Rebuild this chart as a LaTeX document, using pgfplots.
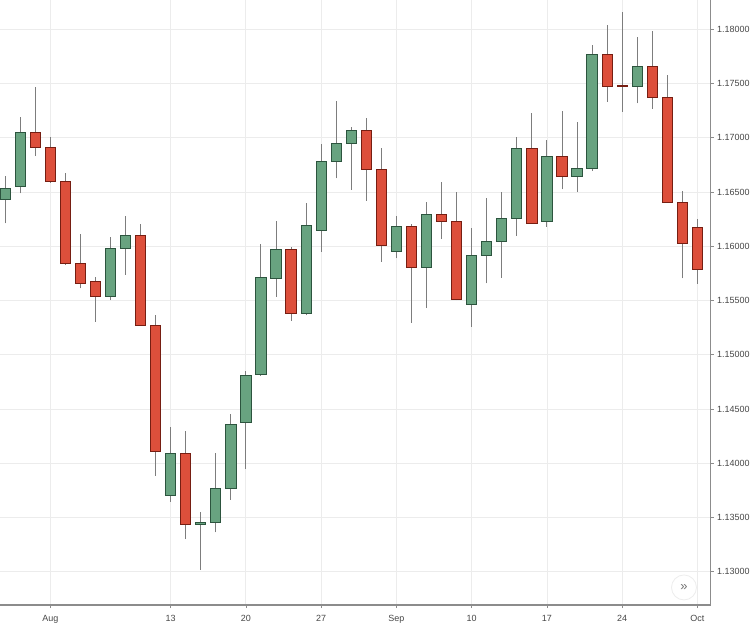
\documentclass[border=0pt]{standalone}
\usepackage{pgfplots}
\usepackage{pgfplotstable}
\pgfplotsset{compat=1.18}
\usepackage{fontspec}
\setmainfont{Liberation Sans}
\definecolor{upfill}{RGB}{104,163,128}
\definecolor{updraw}{RGB}{44,84,62}
\definecolor{dnfill}{RGB}{221,79,59}
\definecolor{dndraw}{RGB}{118,30,18}
\definecolor{wickc}{RGB}{125,125,125}
\definecolor{gridc}{RGB}{236,236,236}
\definecolor{axisc}{RGB}{140,140,140}
\definecolor{labelc}{RGB}{70,70,70}

\pgfplotstableread{
x    o        h        l        c        up
-11  1.16433  1.16648  1.16212  1.16531  1
-10  1.16547  1.17194  1.16488  1.17053  1
-9   1.17053  1.17471  1.16832  1.16912  0
-8   1.16912  1.17010  1.16586  1.16593  0
-7   1.16593  1.16678  1.15828  1.15843  0
-6   1.15843  1.16111  1.15613  1.15659  0
-5   1.15680  1.15720  1.15305  1.15539  0
-4   1.15539  1.16088  1.15505  1.15982  1
-3   1.15982  1.16279  1.15736  1.16101  1
-2   1.16101  1.16203  1.15266  1.15272  0
-1   1.15270  1.15367  1.13886  1.14107  0
0    1.13701  1.14337  1.13646  1.14092  1
1    1.14092  1.14298  1.13300  1.13438  0
2    1.13440  1.13551  1.13017  1.13452  1
3    1.13456  1.14098  1.13364  1.13766  1
4    1.13766  1.14452  1.13662  1.14359  1
5    1.14374  1.14853  1.13947  1.14811  1
6    1.14814  1.16018  1.14805  1.15708  1
7    1.15705  1.16230  1.15535  1.15966  1
8    1.15966  1.15996  1.15314  1.15382  0
9    1.15376  1.16402  1.15364  1.16190  1
10   1.16147  1.16943  1.15950  1.16780  1
11   1.16780  1.17339  1.16627  1.16943  1
12   1.16943  1.17102  1.16519  1.17069  1
13   1.17069  1.17185  1.16420  1.16710  0
14   1.16710  1.16909  1.15858  1.16003  0
15   1.15950  1.16279  1.15889  1.16178  1
16   1.16178  1.16203  1.15296  1.15803  0
17   1.15803  1.16408  1.15429  1.16295  1
18   1.16295  1.16595  1.16065  1.16230  0
19   1.16230  1.16498  1.15505  1.15514  0
20   1.15459  1.16166  1.15259  1.15913  1
21   1.15913  1.16448  1.15659  1.16042  1
22   1.16042  1.16500  1.15708  1.16258  1
23   1.16258  1.17010  1.16095  1.16897  1
24   1.16897  1.17226  1.16210  1.16212  0
25   1.16230  1.16980  1.16181  1.16832  1
26   1.16832  1.17250  1.16525  1.16639  0
27   1.16639  1.17148  1.16503  1.16719  1
28   1.16715  1.17855  1.16697  1.17770  1
29   1.17770  1.18040  1.17333  1.17471  0
30   1.17484  1.18157  1.17241  1.17476  0
31   1.17477  1.17926  1.17318  1.17655  1
32   1.17655  1.17987  1.17268  1.17373  0
33   1.17373  1.17576  1.16400  1.16408  0
34   1.16408  1.16512  1.15705  1.16028  0
35   1.16169  1.16249  1.15653  1.15788  0
}\candles

\begin{document}
\begin{tikzpicture}
\begin{axis}[
  at={(0,0)}, anchor=south west,
  scale only axis, width=710.7bp, height=605bp,
  xmin=-11.34, xmax=35.88,
  ymin=1.12694, ymax=1.18270,
  axis x line*=bottom, axis y line*=right,
  axis line style={draw=axisc, line width=1.3bp},
  xtick={-8,0,5,10,15,20,25,30,35},
  xticklabels={Aug,13,20,27,Sep,10,17,24,Oct},
  xticklabel style={yshift=-4bp},
  ytick={1.13,1.135,1.14,1.145,1.15,1.155,1.16,1.165,1.17,1.175,1.18},
  scaled y ticks=false,
  yticklabel style={/pgf/number format/.cd, fixed, fixed zerofill, precision=5, assume math mode=true},
  ticklabel style={font=\fontsize{9}{10}\selectfont, text=labelc},
  tick align=outside,
  major tick length=3bp,
  tick style={draw=axisc, line width=0.8bp},
  grid=major,
  major grid style={draw=gridc, line width=0.9bp},
  clip=true,
]
\pgfplotstablegetrowsof{\candles}
\pgfmathtruncatemacro\lastrow{\pgfplotsretval-1}
\pgfplotsforeachungrouped \r in {0,...,\lastrow}{%
  \pgfplotstablegetelem{\r}{x}\of\candles \let\cx\pgfplotsretval
  \pgfplotstablegetelem{\r}{o}\of\candles \let\co\pgfplotsretval
  \pgfplotstablegetelem{\r}{h}\of\candles \let\ch\pgfplotsretval
  \pgfplotstablegetelem{\r}{l}\of\candles \let\cl\pgfplotsretval
  \pgfplotstablegetelem{\r}{c}\of\candles \let\cc\pgfplotsretval
  \pgfplotstablegetelem{\r}{up}\of\candles \let\cu\pgfplotsretval
  \pgfmathsetmacro\xl{\cx-0.34}%
  \pgfmathsetmacro\xr{\cx+0.34}%
  \ifnum\cu=1 \def\bfill{upfill}\def\bdraw{updraw}\else \def\bfill{dnfill}\def\bdraw{dndraw}\fi
  \edef\cmd{%
    \noexpand\addplot[draw=wickc, line width=1bp, mark=none] coordinates {(\cx,\cl) (\cx,\ch)};
    \noexpand\addplot[fill=\bfill, draw=\bdraw, line width=1bp, mark=none] coordinates {(\xl,\co) (\xr,\co) (\xr,\cc) (\xl,\cc)} -- cycle;
  }%
  \cmd
}
\node[circle, fill=white, draw=black!7, line width=0.8bp, minimum size=25bp, inner sep=0pt, text=black!55]
  at (axis description cs:0.9624,0.029) {\fontsize{13}{13}\selectfont »};
\end{axis}
\pgfresetboundingbox
\path (0,-19bp) rectangle (750bp,605bp);
\end{tikzpicture}
\end{document}
